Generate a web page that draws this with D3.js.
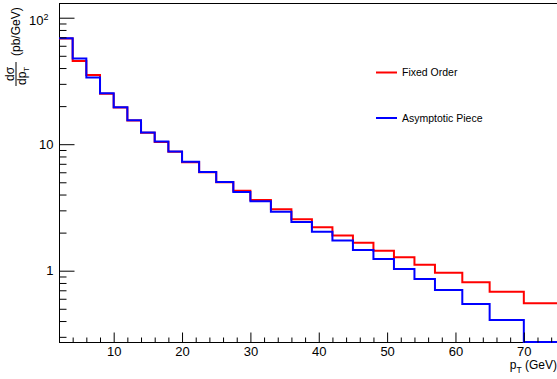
<!DOCTYPE html>
<html>
<head>
<meta charset="utf-8">
<script src="https://cdn.jsdelivr.net/npm/d3@7"></script>
<style>
  body { margin: 0; background: #fff; }
  svg { display: block; font-family: "Liberation Sans", Arial, Helvetica, sans-serif; }
</style>
</head>
<body>
<div id="chart"></div>
<script>
// bin edges in pT (GeV)
const binEdges = [2, 4, 6, 8, 10, 12, 14, 16, 18, 20, 22.5, 25, 27.5, 30, 33, 36, 39, 42, 45, 48, 51, 54, 57, 61, 65, 70, 75];

// dsigma/dpT (pb/GeV), one per bin
const fixedOrder = [68.5, 45.4, 35.2, 25.0, 19.5, 15.4, 12.3, 10.4, 8.7, 7.2, 6.0, 5.0, 4.29, 3.62, 3.06, 2.55, 2.21, 1.90, 1.66, 1.44, 1.28, 1.115, 0.964, 0.81, 0.683, 0.552];
const asymptotic = [68.7, 47.6, 33.7, 25.3, 19.6, 15.5, 12.4, 10.5, 8.75, 7.27, 6.03, 5.02, 4.19, 3.54, 2.93, 2.43, 2.03, 1.73, 1.46, 1.24, 1.03, 0.86, 0.704, 0.546, 0.408, 0.2];

const xMajorTicks = [10, 20, 30, 40, 50, 60, 70];
const yMajorTicks = [1, 10, 100];
const seriesNames = ["Fixed Order", "Asymptotic Piece"];
const seriesColors = ["#ff0000", "#0000ff"];

const width = 557, height = 379;
const margin = {top: 3, left: 59, bottom: 342, right: 558};

const svg = d3.select("#chart")
	.append("svg")
	.attr("width", width)
	.attr("height", height);

const x = d3.scaleLinear().domain([2, 75]).range([margin.left, margin.right]);
const y = d3.scaleLog().domain([0.2731, 130.7]).range([margin.bottom, margin.top]).clamp(true);

// frame
svg.append("rect")
	.attr("x", margin.left + 0.5)
	.attr("y", margin.top + 0.5)
	.attr("width", margin.right - margin.left)
	.attr("height", margin.bottom - margin.top)
	.style("fill", "none")
	.style("stroke", "#000")
	.style("stroke-width", 1);

// histograms as step outlines
const stepPoints = (values) => {
	let pts = [];
	values.forEach((v, i) => {
		pts.push([binEdges[i], v]);
		pts.push([binEdges[i + 1], v]);
	});
	return pts;
};

const line = d3.line()
	.x(d => x(d[0]))
	.y(d => y(d[1]));

[fixedOrder, asymptotic].forEach((values, i) => {
	svg.append("path")
		.attr("d", line(stepPoints(values)))
		.style("fill", "none")
		.style("stroke", seriesColors[i])
		.style("stroke-width", 2);
});

// x axis
let xMinor = d3.range(4, 75, 2).filter(t => t % 10 !== 0);

svg.append("g")
	.attr("transform", "translate(0," + (margin.bottom + 0.5) + ")")
	.call(d3.axisBottom(x).tickValues(xMinor).tickSize(-5).tickFormat(""))
	.call(g => g.select(".domain").remove());

svg.append("g")
	.attr("class", "x axis")
	.attr("transform", "translate(0," + (margin.bottom + 0.5) + ")")
	.call(d3.axisBottom(x).tickValues(xMajorTicks).tickSize(-10).tickPadding(4))
	.call(g => g.select(".domain").remove())
	.call(g => g.selectAll("text").style("font-size", "13px").style("fill", "#000"));

// y axis
let yMinor = [];
[0.1, 1, 10].forEach(dec => {
	for (let k = 2; k <= 9; k++) {
		let v = k * dec;
		if (v >= 0.2731 && v <= 130.7) yMinor.push(v);
	}
});

svg.append("g")
	.attr("transform", "translate(" + (margin.left + 0.5) + ",0)")
	.call(d3.axisLeft(y).tickValues(yMinor).tickSize(-7).tickFormat(""))
	.call(g => g.select(".domain").remove());

svg.append("g")
	.attr("class", "y axis")
	.attr("transform", "translate(" + (margin.left + 0.5) + ",0)")
	.call(d3.axisLeft(y).tickValues(yMajorTicks).tickSize(-15).tickPadding(6)
		.tickFormat(d => d === 100 ? "10" : String(d)))
	.call(g => g.select(".domain").remove())
	.call(g => g.selectAll("text").style("font-size", "13px").style("fill", "#000"))
	.call(g => g.selectAll(".tick").filter(d => d === 100).select("text")
		.attr("dx", "-5px").attr("dy", "0.55em")
		.append("tspan")
		.attr("dy", "-0.6em")
		.style("font-size", "9px")
		.text("2"));

// x axis title
const xTitle = svg.append("text")
	.attr("x", 557)
	.attr("y", 369)
	.attr("text-anchor", "end")
	.style("font-size", "12px");
xTitle.append("tspan").text("p");
xTitle.append("tspan").attr("dy", 4).style("font-size", "8.5px").text("T");
xTitle.append("tspan").attr("dy", -4).text(" (GeV)");

// y axis title (fraction, rotated)
const yTitle = svg.append("g")
	.attr("transform", "translate(16,86) rotate(-90)");

yTitle.append("line")
	.attr("x1", 0).attr("x2", 24)
	.attr("y1", 0).attr("y2", 0)
	.style("stroke", "#000")
	.style("stroke-width", 1);

yTitle.append("text")
	.attr("x", 12).attr("y", -2)
	.attr("text-anchor", "middle")
	.style("font-size", "12px")
	.text("dσ");

const denom = yTitle.append("text")
	.attr("x", 1).attr("y", 10)
	.style("font-size", "12px");
denom.append("tspan").text("dp");
denom.append("tspan").attr("dy", 3).style("font-size", "8px").text("T");

yTitle.append("text")
	.attr("x", 30).attr("y", 4)
	.style("font-size", "12px")
	.text("(pb/GeV)");

// legend
const legend = svg.selectAll("g.legend")
	.data(seriesNames)
	.enter().append("g")
	.attr("class", "legend")
	.attr("transform", (d, i) => "translate(376," + (72.5 + i * 45.5) + ")");

legend.append("line")
	.attr("x1", 0).attr("x2", 21)
	.attr("y1", 0).attr("y2", 0)
	.style("stroke", (d, i) => seriesColors[i])
	.style("stroke-width", 2);

legend.append("text")
	.attr("x", 26)
	.attr("y", 0)
	.attr("dy", "0.35em")
	.style("font-size", "10.5px")
	.text(d => d);
</script>
</body>
</html>
